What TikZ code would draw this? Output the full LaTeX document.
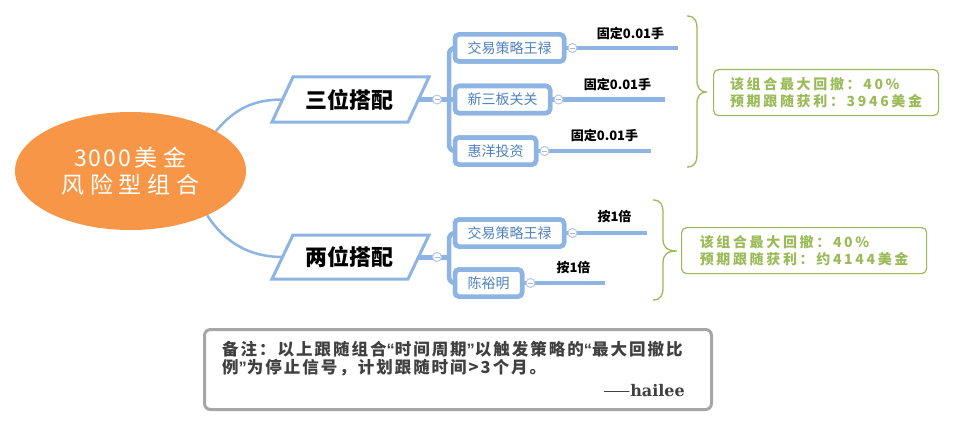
\documentclass[tikz,border=0pt]{standalone}
\usepackage{fontspec}
\setmainfont{Noto Sans CJK SC}
\newfontfamily\cjkspaced{Noto Sans CJK SC}[LetterSpace=19]
\newfontfamily\rootfont{Noto Sans CJK SC}[LetterSpace=25]
\newfontfamily\rootdigits{Noto Sans CJK SC}[LetterSpace=8]
\newfontfamily\notefont{Noto Sans CJK SC}[LetterSpace=12]
\newfontfamily\quotefont{Liberation Sans}
\newfontfamily\sigfont{DejaVu Serif}
\usetikzlibrary{shapes.geometric}
\definecolor{lineblue}{HTML}{8DB4E2}
\definecolor{textblue}{HTML}{4F81BD}
\definecolor{rootorange}{HTML}{F79646}
\definecolor{sumgreen}{HTML}{9BBB59}
\definecolor{notegray}{HTML}{A6A6A6}
\definecolor{notetext}{HTML}{404040}
\definecolor{togglegray}{HTML}{B4C7E7}
\tikzset{
  rootnode/.style={ellipse, fill=rootorange, inner sep=0, minimum width=231, minimum height=118, text=white, align=center, font=\rootfont\fontsize{23}{27}\selectfont},
  partext/.style={font=\fontsize{22}{26}\selectfont\bfseries, text=black, inner sep=0},
  parshape/.style={draw=lineblue, line width=3, fill=white, line join=miter},
  curvelink/.style={draw=lineblue, line width=2.5},
  thicklink/.style={draw=lineblue, line width=5},
  trunkline/.style={draw=lineblue, line width=4.5, rounded corners=6},
  leafline/.style={draw=lineblue, line width=4.5},
  childbox/.style={draw=lineblue, line width=4.5, rounded corners=4, fill=white, text=textblue, font=\fontsize{14}{16}\selectfont, minimum height=27, inner xsep=12.5, outer sep=0, anchor=west},
  toggle/.style={circle, draw=togglegray, line width=1, fill=white, minimum size=9, inner sep=0},
  minusmark/.style={draw=togglegray!80!gray, line width=0.9},
  leaflabel/.style={font=\fontsize{13}{15}\selectfont\bfseries, inner sep=0},
  bracestyle/.style={draw=sumgreen, line width=1.3},
  sumbox/.style={draw=sumgreen, line width=1.2, rounded corners=5, fill=white, text=sumgreen, align=left, anchor=north west, minimum height=46, font=\cjkspaced\fontsize{14}{17}\selectfont\bfseries},
  notebox/.style={draw=notegray, line width=3, rounded corners=6, fill=white, anchor=north west, outer sep=0, minimum width=507, minimum height=80, inner sep=0},
  notetextstyle/.style={text=notetext, font=\notefont\fontsize{16.5}{19.5}\selectfont\bfseries, inner sep=0, anchor=base west},
  sigstyle/.style={text=notetext, font=\sigfont\fontsize{16}{19}\selectfont\bfseries, inner sep=0, anchor=base east}
}
\newcommand\openq{{\quotefont\bfseries “}}
\newcommand\closeq{{\quotefont\bfseries ”}}
\begin{document}
\begin{tikzpicture}[x=1pt,y=-1pt]
\useasboundingbox (0,0) rectangle (972,428);
\fill[white] (0,0) rectangle (972,428);

% root
\node[rootnode] (root) at (130.5,171) {{\rootdigits 3000}\hspace{4pt}美金\\风险型组合};

% parallelogram anchor points
\coordinate (p1w) at (282.5,99.5);
\coordinate (p1e) at (418.5,99.5);
\coordinate (p2w) at (282.5,257);
\coordinate (p2e) at (418.5,257);
\coordinate (j2) at (449,257);

% curves from root
\draw[curvelink] (root.25) .. controls (235,108) and (255,99.5) .. (p1w);
\draw[curvelink] (root.-30) .. controls (225,243) and (250,257) .. (p2w);

% child boxes
\node[childbox] (b1) at (455,48) {交易策略王禄};
\node[childbox] (b2) at (455,99.5) {新三板关关};
\node[childbox] (b3) at (455,151) {惠洋投资};
\node[childbox] (b4) at (455,233) {交易策略王禄};
\node[childbox] (b5) at (455,283) {陈裕明};

% leaf end points
\coordinate (e1) at (678,48);
\coordinate (e2) at (665,99.5);
\coordinate (e3) at (651,151);
\coordinate (e4) at (647,233);
\coordinate (e5) at (605,283);

% links
\draw[thicklink] (p1e) -- (b2.west);
\draw[thicklink] (p2e) -- (j2);
\draw[trunkline] (b1.west) -- ++(-6,0) |- (b3.west);
\draw[trunkline] (b4.west) -- ++(-6,0) |- (b5.west);
\draw[leafline] (b1.east) -- (e1);
\draw[leafline] (b2.east) -- (e2);
\draw[leafline] (b3.east) -- (e3);
\draw[leafline] (b4.east) -- (e4);
\draw[leafline] (b5.east) -- (e5);

% redraw boxes on top
\node[childbox] (b1top) at (b1.west) {交易策略王禄};
\node[childbox] (b2top) at (b2.west) {新三板关关};
\node[childbox] (b3top) at (b3.west) {惠洋投资};
\node[childbox] (b4top) at (b4.west) {交易策略王禄};
\node[childbox] (b5top) at (b5.west) {陈裕明};

% parallelograms
\draw[parshape] (293,77) -- (429,77) -- (408,122) -- (272,122) -- cycle;
\node[partext] (p1) at (349,99.5) {三位搭配};
\draw[parshape] (293,235) -- (429,235) -- (408,279) -- (272,279) -- cycle;
\node[partext] (p2) at (349,257) {两位搭配};

% toggles
\node[toggle] (t0) at (437,99.5) {};
\node[toggle] (t00) at (437,257) {};
\node[toggle] (t1) at ([xshift=8.5]b1.east) {};
\node[toggle] (t2) at ([xshift=8.5]b2.east) {};
\node[toggle] (t3) at ([xshift=8.5]b3.east) {};
\node[toggle] (t4) at ([xshift=8.5]b4.east) {};
\node[toggle] (t5) at ([xshift=8.5]b5.east) {};
\foreach \t in {t0,t00,t1,t2,t3,t4,t5}
  \draw[minusmark] ([xshift=-2.5]\t.center) -- ([xshift=2.5]\t.center);

% leaf labels
\node[leaflabel] (l1) at (630.5,33) {固定0.01手};
\node[leaflabel] (l2) at (617.5,84) {固定0.01手};
\node[leaflabel] (l3) at (604.5,135) {固定0.01手};
\node[leaflabel] (l4) at (614.5,217) {按1倍};
\node[leaflabel] (l5) at (573.5,268) {按1倍};

% braces
\draw[bracestyle] (687,16) .. controls (695,16) and (697,21) .. (697,30) -- (697,80) .. controls (697,88) and (700,92) .. (707,92) .. controls (700,92) and (697,96) .. (697,104) -- (697,153) .. controls (697,162) and (695,167) .. (687,167);
\draw[bracestyle] (653,200) .. controls (661,200) and (663,205) .. (663,213) -- (663,239) .. controls (663,247) and (667,251) .. (677,251) .. controls (667,251) and (663,255) .. (663,263) -- (663,287) .. controls (663,295) and (661,300) .. (653,300);

% summary boxes
\node[sumbox, minimum width=225] (s1) at (713,69) {该组合最大回撤：40\%\\预期跟随获利：3946美金};
\node[sumbox, minimum width=245] (s2) at (681,227) {该组合最大回撤：40\%\\预期跟随获利：约4144美金};

% note
\node[notebox] (note) at (204.5,329.5) {};
\node[notetextstyle] (n1) at (222,355) {备注：以上跟随组合\openq 时间周期\closeq 以触发策略的\openq 最大回撤比};
\node[notetextstyle] (n2) at (222,373.5) {例\closeq 为停止信号，计划跟随时间>3个月。};
\node[sigstyle] (n3) at (685,396) {{\rmfamily\mdseries ——}hailee};
\end{tikzpicture}
\end{document}
